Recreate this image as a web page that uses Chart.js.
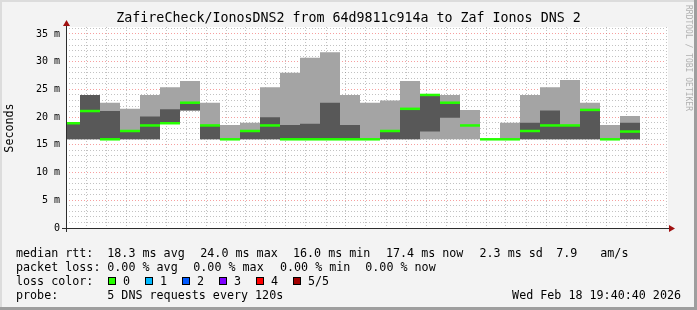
<!DOCTYPE html>
<html>
<head>
<meta charset="utf-8">
<script src="https://cdn.jsdelivr.net/npm/chart.js@4/dist/chart.umd.min.js"></script>
<style>
  html, body { margin: 0; padding: 0; background: #f3f3f3; }
</style>
</head>
<body>
<canvas id="rtt-chart" width="697" height="310"></canvas>
<script>
// probe slots (start of each 120s step)
const slots = ['18:40', '18:42', '18:44', '18:46', '18:48', '18:50', '18:52', '18:54', '18:56', '18:58',
  '19:00', '19:02', '19:04', '19:06', '19:08', '19:10', '19:12', '19:14', '19:16', '19:18',
  '19:20', '19:22', '19:24', '19:26', '19:28', '19:30', '19:32', '19:34', '19:36'];

// smoke: sorted pings (ms)
const smokeMin  = [16.0, 16.0, 16.0, 16.0, 16.0, 18.9, 21.2, 16.0, 16.0, 16.0, 16.0, 16.0, 16.0, 16.0, 16.0,
  16.0, 16.0, 16.0, 16.0, 16.0, 16.0, 16.0, 16.0, 16.0, 16.0, 16.0, 16.0, 16.0, 16.0];
const smokeLow  = [16.0, 16.0, 16.0, 16.0, 16.0, 18.9, 21.2, 16.0, 16.0, 16.0, 16.0, 16.0, 16.0, 16.0, 16.0,
  16.0, 16.0, 16.0, 17.4, 19.9, 18.5, 16.0, 16.0, 16.0, 16.0, 16.0, 16.0, 16.0, 16.0];
const smokeHigh = [18.9, 24.0, 21.1, 17.5, 20.1, 21.4, 22.6, 18.6, 16.0, 17.5, 20.0, 18.6, 18.8, 22.6, 18.6,
  16.0, 17.5, 21.5, 24.0, 22.6, 18.5, 16.0, 16.0, 19.0, 21.2, 18.5, 21.3, 16.0, 19.0];
const smokeMax  = [18.9, 24.0, 22.6, 21.5, 24.0, 25.4, 26.5, 22.6, 18.6, 19.0, 25.4, 28.0, 30.7, 31.7, 24.0,
  22.6, 23.0, 26.5, 24.0, 24.0, 21.3, 16.0, 19.0, 24.0, 25.4, 26.7, 22.6, 18.6, 20.2];
const medianRtt = [18.9, 21.1, 16.0, 17.5, 18.5, 18.9, 22.6, 18.5, 16.0, 17.5, 18.5, 16.0, 16.0, 16.0, 16.0,
  16.0, 17.5, 21.5, 24.0, 22.6, 18.5, 16.0, 16.0, 17.5, 18.5, 18.5, 21.3, 16.0, 17.4];

const lossColors = ['#26ff00', '#00b8ff', '#0059ff', '#7e00ff', '#ff0000', '#a10000'];
const lossLabels = ['0', '1', '2', '3', '4', '5/5'];

const stepMin = 2;
const toMin = s => { const [h, m] = s.split(':').map(Number); return (h - 18) * 60 + m; };
const fmtMin = v => { const h = 18 + Math.floor(v / 60), m = v % 60; return h + ':' + String(m).padStart(2, '0'); };

function stepSeries(values) {
  const pts = slots.map((s, i) => ({ x: toMin(s), y: values[i] }));
  pts.push({ x: toMin(slots[slots.length - 1]) + stepMin, y: values[values.length - 1] });
  return pts;
}

const MONO = 'DejaVu Sans Mono';
Chart.defaults.font.family = MONO;
Chart.defaults.color = '#000';

const rrdFrame = {
  id: 'rrdFrame',
  beforeDraw(chart) {
    const { ctx, width, height, chartArea: a } = chart;
    ctx.save();
    ctx.fillStyle = '#f3f3f3';
    ctx.fillRect(0, 0, width, height);
    ctx.fillStyle = '#dcdcdc';
    ctx.fillRect(0, 0, width, 2);
    ctx.fillRect(0, 0, 2, height);
    ctx.fillStyle = '#9e9e9e';
    ctx.fillRect(0, height - 3, width, 3);
    ctx.fillRect(width - 3, 0, 3, height);
    ctx.fillStyle = '#ffffff';
    ctx.fillRect(a.left, a.top, a.right - a.left + 2, a.bottom - a.top);
    ctx.restore();
  },
  afterDatasetsDraw(chart) {
    const { ctx, chartArea: a } = chart;
    ctx.save();
    ctx.strokeStyle = '#2c2c2c';
    ctx.lineWidth = 1;
    ctx.beginPath();
    ctx.moveTo(a.left - 4, a.bottom + 0.5);
    ctx.lineTo(a.right + 6, a.bottom + 0.5);
    ctx.moveTo(a.left + 0.5, a.bottom + 4);
    ctx.lineTo(a.left + 0.5, a.top - 2);
    ctx.stroke();
    ctx.fillStyle = '#a01010';
    ctx.beginPath();
    ctx.moveTo(a.right + 9, a.bottom + 0.5);
    ctx.lineTo(a.right + 3, a.bottom - 3);
    ctx.lineTo(a.right + 3, a.bottom + 4);
    ctx.closePath();
    ctx.fill();
    ctx.beginPath();
    ctx.moveTo(a.left + 0.5, a.top - 7);
    ctx.lineTo(a.left - 3, a.top - 1);
    ctx.lineTo(a.left + 4, a.top - 1);
    ctx.closePath();
    ctx.fill();
    ctx.restore();
  },
  afterDraw(chart) {
    const { ctx, width } = chart;
    ctx.save();
    ctx.fillStyle = '#000';
    ctx.textBaseline = 'middle';
    ctx.font = '13.3px ' + MONO;
    ctx.textAlign = 'center';
    ctx.fillText('ZafireCheck/IonosDNS2 from 64d9811c914a to Zaf Ionos DNS 2', width / 2, 19);

    // axis title
    ctx.font = '11.7px ' + MONO;
    ctx.save();
    ctx.translate(10, 128);
    ctx.rotate(-Math.PI / 2);
    ctx.fillText('Seconds', 0, 0);
    ctx.restore();

    // watermark
    ctx.save();
    ctx.fillStyle = '#b0b0b0';
    ctx.font = '8px ' + MONO;
    ctx.translate(688, 5);
    ctx.rotate(Math.PI / 2);
    ctx.textAlign = 'left';
    ctx.fillText('RRDTOOL / TOBI OETIKER', 0, 0);
    ctx.restore();

    // legend
    ctx.textAlign = 'left';
    ctx.font = '11.7px ' + MONO;
    const rows = [
      [254, [[16, 'median rtt:'], [107.3, '18.3 ms avg'], [200.3, '24.0 ms max'], [293, '16.0 ms min'],
        [386, '17.4 ms now'], [479.5, '2.3 ms sd'], [556.3, '7.9'], [600.3, 'am/s']]],
      [268, [[16, 'packet loss:'], [107.3, '0.00 % avg'], [193.3, '0.00 % max'], [280, '0.00 % min'],
        [365.3, '0.00 % now']]],
      [282, [[16, 'loss color:']]],
      [296, [[16, 'probe:'], [107.3, '5 DNS requests every 120s']]]
    ];
    rows.forEach(([y, items]) => items.forEach(([x, t]) => ctx.fillText(t, x, y)));
    const swX = [108.5, 145.5, 182.5, 219.5, 256.5, 293.5];
    lossColors.forEach((c, i) => {
      ctx.fillStyle = c;
      ctx.fillRect(swX[i], 277.5, 7, 7);
      ctx.strokeStyle = '#000';
      ctx.lineWidth = 1;
      ctx.strokeRect(swX[i], 277.5, 7, 7);
      ctx.fillStyle = '#000';
      ctx.fillText(lossLabels[i], swX[i] + 14.5, 282);
    });
    ctx.textAlign = 'right';
    ctx.fillText('Wed Feb 18 19:40:40 2026', 681, 296);
    ctx.restore();
  }
};

// RRD style: value holds from slot start to next slot
const smokeSet = (values, color, fill) => ({
  type: 'line',
  data: stepSeries(values),
  stepped: 'before',
  borderWidth: 0,
  pointRadius: 0,
  backgroundColor: color,
  fill: fill
});

const ctx = document.getElementById('rtt-chart').getContext('2d');
new Chart(ctx, {
  type: 'line',
  data: {
    datasets: [
      {
        data: slots.map((s, i) => ({ x: toMin(s) + stepMin / 2, y: medianRtt[i] })),
        showLine: false,
        pointStyle: 'line',
        pointRadius: 10,
        pointBorderWidth: 2.5,
        pointBorderColor: lossColors[0],
        clip: 0
      },
      smokeSet(smokeHigh, '#585858', '+1'),
      smokeSet(smokeLow, 'rgba(0,0,0,0)', false),
      smokeSet(smokeMax, '#a4a4a4', '+1'),
      smokeSet(smokeMin, 'rgba(0,0,0,0)', false)
    ]
  },
  options: {
    responsive: false,
    animation: false,
    devicePixelRatio: 1,
    layout: { autoPadding: false, padding: { top: 27, right: 31, left: 0, bottom: 0 } },
    plugins: { legend: { display: false }, tooltip: { enabled: false }, title: { display: false } },
    scales: {
      x: {
        type: 'linear',
        min: 40.6,
        max: 100.6,
        afterFit: s => { s.height = 82; },
        ticks: {
          stepSize: 2,
          maxTicksLimit: 100,
          includeBounds: false,
          autoSkip: false,
          maxRotation: 0,
          padding: 4,
          font: { size: 10 },
          callback: v => (v % 10 === 0 ? fmtMin(v) : '')
        },
        grid: {
          drawTicks: false,
          color: c => (c.tick && c.tick.value % 10 === 0 ? 'rgba(240,80,80,0.55)' : 'rgba(120,120,120,0.45)')
        },
        border: { display: false, dash: [1, 2] }
      },
      y: {
        min: 0,
        max: 36.26,
        afterFit: s => { s.width = 66; },
        ticks: {
          stepSize: 1,
          maxTicksLimit: 100,
          includeBounds: false,
          autoSkip: false,
          padding: 6,
          font: { size: 10 },
          callback: v => (v === 0 ? '0' : v % 5 === 0 ? v + ' m' : '')
        },
        grid: {
          drawTicks: false,
          color: c => (c.tick && c.tick.value % 5 === 0 ? 'rgba(240,80,80,0.55)' : 'rgba(120,120,120,0.45)')
        },
        border: { display: false, dash: [1, 2] }
      }
    }
  },
  plugins: [rrdFrame]
});
</script>
</body>
</html>
